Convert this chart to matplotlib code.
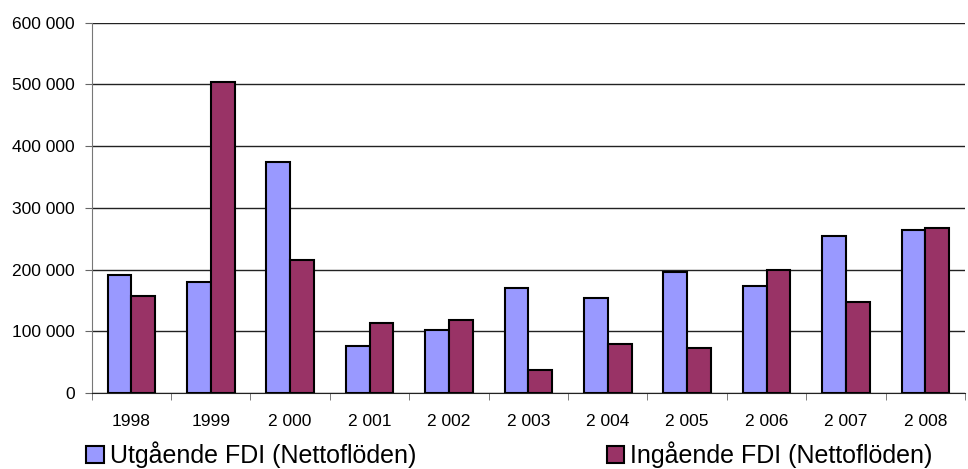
import matplotlib.pyplot as plt
import numpy as np
from matplotlib.ticker import FuncFormatter, MultipleLocator
from matplotlib.patches import Patch

plt.rcParams['font.family'] = ['Liberation Sans', 'DejaVu Sans']

# Data
years = ['1998', '1999', '2 000', '2 001', '2 002', '2 003', '2 004', '2 005', '2 006', '2 007', '2 008']
utgaende = [192000, 180000, 374000, 76000, 102000, 170000, 154000, 196000, 174000, 254000, 264000]
ingaende = [157000, 503000, 215000, 113000, 118000, 38000, 80000, 73000, 199000, 148000, 267000]

blue = '#9999FF'
maroon = '#993366'

fig = plt.figure(figsize=(9.68, 4.69), dpi=100)
ax = fig.add_axes([0.0947, 0.1615, 0.9023, 0.7905])

x = np.arange(len(years))
w = 0.3
ax.bar(x - w / 2, utgaende, w, color=blue, edgecolor='black', linewidth=1.5, zorder=3)
ax.bar(x + w / 2, ingaende, w, color=maroon, edgecolor='black', linewidth=1.5, zorder=3)

ax.set_xlim(-0.5, len(years) - 0.5)
ax.set_ylim(0, 600000)

# gridlines
ax.yaxis.set_major_locator(MultipleLocator(100000))
ax.grid(axis='y', color='#222222', linewidth=1.0, zorder=0)
ax.yaxis.set_major_formatter(FuncFormatter(lambda v, p: f'{int(v):,}'.replace(',', ' ')))

# x ticks: labels at centres, tick marks between groups
ax.set_xticks(x)
ax.set_xticklabels(years)
ax.set_xticks(np.arange(-0.5, len(years)), minor=True)
ax.tick_params(axis='x', which='major', length=0, pad=15, labelsize=12.5)
ax.tick_params(axis='x', which='minor', length=5, color='#666666', direction='out')
ax.tick_params(axis='y', length=5, color='#666666', pad=7, labelsize=12.5)

for s in ['top', 'right']:
    ax.spines[s].set_visible(False)
ax.spines['left'].set_color('#777777')
ax.spines['bottom'].set_color('#222222')

handles = [Patch(facecolor=blue, edgecolor='black', linewidth=1.5),
           Patch(facecolor=maroon, edgecolor='black', linewidth=1.5)]
fig.legend(handles, ['Utgående FDI (Nettoflöden)', 'Ingående FDI (Nettoflöden)'],
           loc='lower left', bbox_to_anchor=(0.066, -0.046), ncol=2, frameon=False,
           fontsize=18, handlelength=0.7, handleheight=0.7, handletextpad=0.25,
           columnspacing=7.6)

fig.savefig('out.png', dpi=100)
